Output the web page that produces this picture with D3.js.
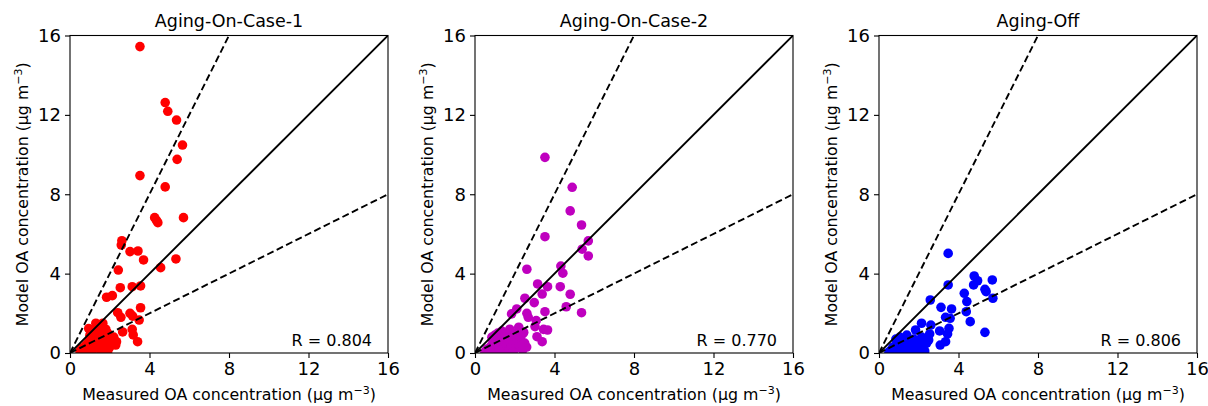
<!DOCTYPE html>
<html><head><meta charset="utf-8">
<script src="https://cdn.jsdelivr.net/npm/d3@7"></script>
<style>body{margin:0;background:#fff}svg{display:block;font-family:"DejaVu Sans",sans-serif}</style>
</head><body><svg id="c" width="1208" height="406"></svg>
<script>
const titles = ["Aging-On-Case-1", "Aging-On-Case-2", "Aging-Off"];
const rLabels = ["R = 0.804", "R = 0.770", "R = 0.806"];
const colors = ["#ff0000", "#bf00bf", "#0000ff"];
const ticks = [0, 4, 8, 12, 16];

const case1 = [[3.52,15.44],[4.79,12.62],[4.92,12.18],[5.36,11.74],[5.66,10.48],[5.39,9.76],[3.52,8.94],[4.79,8.37],
[4.26,6.82],[4.42,6.57],[4.35,6.68],[5.71,6.82],[2.61,5.66],[2.58,5.44],[3.02,5.11],[3.42,5.14],[3.70,4.69],[5.33,4.74],
[4.56,4.30],[2.43,4.18],[2.53,3.29],[3.13,3.34],[3.55,3.38],[1.84,2.81],[2.13,2.89],[3.55,2.28],[2.40,2.03],[2.56,1.80],
[3.02,2.00],[3.15,1.86],[3.48,1.66],[0.94,1.23],[2.65,1.06],[3.13,1.19],[3.18,0.91],[3.40,0.57],[2.34,0.57],
[0.5,0.1],[0.6,0.25],[0.7,0.15],[0.8,0.4],[0.9,0.2],[0.95,0.6],[1.0,0.1],[1.05,0.35],[1.1,0.8],[1.15,0.5],[1.2,0.2],
[1.25,1.0],[1.3,0.7],[1.35,0.3],[1.4,1.3],[1.45,0.9],[1.5,0.5],[1.55,1.1],[1.6,0.15],[1.65,1.5],[1.7,0.8],[1.75,0.4],
[1.8,1.2],[1.85,0.6],[1.9,1.0],[2.0,0.3],[2.05,0.7],[2.1,0.5],[1.3,1.5],[1.0,0.9],[1.2,1.2],[0.85,0.05],[1.6,0.05],
[1.9,0.1],[2.2,0.8],[2.3,0.4]];

const case2 = [[3.52,9.86],[4.89,8.35],[4.79,7.16],[5.36,6.45],[3.52,5.86],[5.70,5.65],[5.39,5.23],[5.70,4.89],[4.32,4.38],
[4.42,4.02],[2.61,4.22],[3.15,3.48],[3.65,3.34],[3.38,2.97],[4.29,3.34],[4.79,2.96],[2.51,2.76],[2.98,2.54],[4.59,2.33],
[5.36,2.03],[2.10,2.22],[1.84,1.97],[2.61,2.00],[2.68,1.80],[3.52,2.08],[3.08,1.63],[3.02,1.33],[3.45,1.19],[3.65,1.16],
[3.12,0.82],[3.38,0.57],[2.43,1.0],
[0.5,0.05],[0.6,0.2],[0.7,0.1],[0.8,0.35],[0.9,0.6],[0.95,0.15],[1.0,0.9],[1.1,0.4],[1.15,1.0],[1.2,0.2],[1.3,0.7],
[1.35,1.1],[1.4,0.3],[1.5,0.9],[1.55,0.5],[1.6,0.05],[1.7,0.8],[1.75,1.2],[1.8,0.4],[1.9,0.65],[2.0,0.2],[2.05,1.0],
[2.1,0.5],[2.2,0.3],[2.3,0.8],[2.4,0.15],[2.5,0.5],[2.6,0.3],[1.0,0.5],[1.25,0.05],[0.85,0.8],[1.45,0.6],[2.2,1.3],
[2.45,1.05],[1.9,0.05]];

const agingOff = [[3.48,5.02],[4.79,3.88],[4.96,3.64],[5.70,3.68],[4.76,3.43],[5.33,3.21],[3.48,3.43],[4.29,3.01],
[5.39,3.09],[5.73,2.76],[4.42,2.59],[2.58,2.67],[3.12,2.30],[3.65,2.22],[4.39,2.08],[3.35,1.80],[3.58,1.75],[4.59,1.58],
[2.14,1.50],[2.61,1.41],[1.84,1.16],[3.52,1.24],[3.05,1.11],[3.45,0.96],[5.33,1.04],[2.55,0.96],[3.35,0.57],[3.08,0.40],
[2.5,0.65],
[0.5,0.05],[0.6,0.15],[0.7,0.3],[0.8,0.1],[0.9,0.5],[1.0,0.2],[1.05,0.8],[1.1,0.05],[1.2,0.4],[1.3,0.6],[1.35,0.15],
[1.4,0.9],[1.5,0.3],[1.6,0.5],[1.7,0.1],[1.75,0.7],[1.8,0.25],[1.9,0.45],[2.0,0.05],[2.05,0.6],[2.1,0.2],[2.2,0.35],
[2.3,0.1],[2.4,0.5],[1.0,0.5],[1.25,0.05],[0.85,0.7],[1.55,0.05],[2.15,0.8],[1.45,0.35]];

const datasets = [case1, case2, agingOff];
const refLines = [[[0,0],[16,16]],[[0,0],[8,16]],[[0,0],[16,8]]];
const refDash = [null, "7,3.5", "7,3.5"];

const svg = d3.select("#c");
const lefts = [70, 475, 879];
const W = 318, plotTop = 35.5, H = 317.5;

datasets.forEach((data, i) => {
  const g = svg.append("g").attr("transform", `translate(${lefts[i]},${plotTop})`);
  const x = d3.scaleLinear().domain([0,16]).range([0,W]);
  const y = d3.scaleLinear().domain([0,16]).range([H,0]);
  const defs = svg.append("defs");
  defs.append("clipPath").attr("id","clip"+i).append("rect").attr("width",W).attr("height",H);
  const pg = g.append("g").attr("clip-path",`url(#clip${i})`);
  pg.selectAll("circle").data(data).join("circle")
    .attr("cx", d => x(d[0])).attr("cy", d => y(d[1])).attr("r", 4.8).attr("fill", colors[i]);
  const line = d3.line().x(d => x(d[0])).y(d => y(d[1]));
  refLines.forEach((l, k) => {
    pg.append("path").attr("d", line(l)).attr("stroke","#000").attr("stroke-width",1.9).attr("fill","none")
      .attr("stroke-dasharray", refDash[k]);
  });
  const xa = g.append("g").attr("transform",`translate(0,${H})`).call(d3.axisBottom(x).tickValues(ticks).tickSize(5).tickPadding(3).tickSizeOuter(0));
  const ya = g.append("g").call(d3.axisLeft(y).tickValues(ticks).tickSize(5).tickPadding(4).tickSizeOuter(0));
  [xa, ya].forEach(a => { a.select(".domain").remove(); a.selectAll("text").attr("font-size",18).attr("fill","#000").attr("font-family","DejaVu Sans"); a.selectAll("line").attr("stroke","#000").attr("stroke-width",1.1); });
  xa.selectAll("text").attr("dy","0.8em");
  g.append("rect").attr("width",W).attr("height",H).attr("fill","none").attr("stroke","#000").attr("stroke-width",1.1);
  g.append("text").attr("x",W/2).attr("y",-9).attr("text-anchor","middle").attr("font-size",17.5).text(titles[i]);
  g.append("text").attr("x",W-16).attr("y",H-7).attr("text-anchor","end").attr("font-size",16).text(rLabels[i]);
  const xl = g.append("text").attr("x",W/2).attr("y",H+47).attr("text-anchor","middle").attr("font-size",15.8);
  xl.append("tspan").text("Measured OA concentration (µg m");
  xl.append("tspan").attr("dy",-6.5).attr("font-size",11).text("−3");
  xl.append("tspan").attr("dy",6.5).text(")");
  const yl = g.append("text").attr("transform",`translate(-42,${H/2}) rotate(-90)`).attr("text-anchor","middle").attr("font-size",15.8);
  yl.append("tspan").text("Model OA concentration (µg m");
  yl.append("tspan").attr("dy",-6.5).attr("font-size",11).text("−3");
  yl.append("tspan").attr("dy",6.5).text(")");
});
</script></body></html>
